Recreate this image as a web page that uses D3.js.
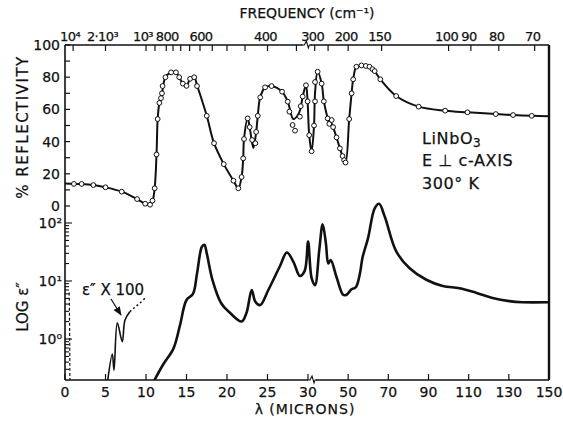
<!DOCTYPE html>
<html>
<head>
<meta charset="utf-8">
<script src="https://cdn.jsdelivr.net/npm/d3@7"></script>
<style>
  body { margin: 0; background: #fff; }
  text { font-family: "DejaVu Sans", sans-serif; fill: #111; stroke: #111; stroke-width: 0.25px; }
</style>
</head>
<body>
<div id="chart"></div>
<script>
// values, [wavelength in microns, value]
const reflPoints = [
  [1.1,13.7],[2.05,13.7],[3.5,13],[5.0,11.6],[7.0,8.9],[8.9,4.3],[9.9,1.4],[10.5,0.8],[10.8,3.3],
  [11.07,11],[11.3,32],[11.44,54],[11.65,64],[11.85,67],[11.97,70],[12.05,74.5],[12.4,80],[13.1,83],
  [13.7,83],[14.1,80],[14.55,76],[15.0,74.6],[15.45,79],[15.95,80],[16.3,74.5],[17.5,56],[18.4,39],
  [19.6,26],[20.8,15.7],[21.4,11],[21.8,18],[22.0,29.6],[22.1,41.6],[22.55,54.4],[22.8,49],[23.1,41],
  [23.5,39],[23.6,46],[23.8,56],[24.1,67.5],[24.7,73.7],[25.5,74.5],[26.8,71],[27.5,64.8],[27.7,58.6],
  [28.1,50.3],[28.4,46.8],[29.0,55.5],[29.1,62],[29.35,68],[29.75,75],[29.95,65],[30.6,44],[31.8,34],
  [33.0,50],[33.5,65],[33.5,77],[34.8,83.4],[36.8,76],[37.9,65],[39.8,54.4],[40.6,51],[41.8,53.4],
  [42.5,49],[44.2,42.6],[45.9,35.8],[47.2,31],[48.0,28.5],[48.7,27],[50.5,54],[51.7,70],[52.5,78.7],
  [54.1,86.5],[56.6,87.3],[58.8,87],[60.6,86.5],[62.1,85],[63.2,83.8],[66.0,78.7],[73.9,68.3],
  [85.1,61.7],[98.3,59.2],[109.4,58.2],[123.5,57.1],[132.1,56.5],[141.4,56]
];

const reflCurve = [
  [0,14],[1.1,13.7],[2.05,13.6],[3.5,13],[5,11.6],[7,8.9],[8.9,4.3],[9.9,1.4],[10.5,0.8],[10.8,3],
  [11.07,11],[11.3,32],[11.44,54],[11.65,64],[11.97,70],[12.4,80],[13.1,83],[13.7,83],[14.1,80],
  [14.55,76],[15.0,74.6],[15.45,79],[15.95,80],[16.3,75],[17.5,56],[18.4,39],[19.6,26],[20.8,15.7],
  [21.4,11],[21.8,18],[22.0,29.6],[22.1,41.6],[22.55,54.4],[22.8,49],[23.25,36],[23.6,46],[23.8,56],
  [24.1,67.5],[24.7,73.7],[25.5,74.5],[26.8,71],[27.5,64.8],[28.2,54],[28.9,58],[29.35,68],[29.75,75],
  [29.95,65],[30.6,44],[31.8,34],[33.0,50],[33.5,70],[34.8,83.4],[36.8,76],[37.9,65],[39.8,54.4],
  [40.6,51],[41.8,51],[42.5,49],[44.2,42.6],[45.9,35.8],[47.2,31],[48.7,27],[50.5,54],[51.7,70],
  [52.5,78.7],[54.1,86.5],[56.6,87.3],[58.8,87],[60.6,86.5],[62.1,85],[63.2,83.8],[66,78.7],
  [73.9,68.3],[85.1,61.7],[98.3,59.2],[109.4,58.2],[123.5,57.1],[132.1,56.5],[141.4,56],[150,55.7]
];

const epsCurve = [
  [11.0,0.19],[12.1,0.36],[13.4,0.69],[14.2,1.74],[15.0,4.7],[15.8,6.0],[16.3,13.5],[16.9,39],
  [17.2,42],[17.5,30],[18.2,10.5],[19.3,4.1],[20.4,2.8],[21.8,2.0],[22.4,2.8],[23.05,7.0],[23.5,4.4],
  [24.1,3.85],[25.1,7.0],[26.5,17.6],[27.4,31],[28.2,21.4],[29.0,12.2],[29.6,15.1],[30.05,48],
  [31.8,11.2],[33.5,8.5],[35.6,34],[37.3,95],[38.9,45],[40.1,20],[41.3,23],[44.2,11.7],[47.5,5.8],
  [49.2,5.8],[51.7,7.2],[53.8,7.8],[55.9,13.7],[57.1,25],[59.9,55],[63.2,178],[65.4,214],[68.2,129],
  [74.0,32],[80.6,16.6],[88.9,10.5],[97.1,8.2],[105.4,7.5],[113.6,6.3],[121.9,5.1],[130.2,4.5],
  [136.8,4.3],[150,4.3]
];

// eps'' x 100 near-IR part, solid then dotted
const eps100Curve = [[5.27,0.19],[5.84,0.55],[6.05,0.29],[6.46,1.9],[7.07,0.9],[7.4,2.1],[8.0,2.95]];
const eps100Dashed = [[8.0,2.95],[8.5,3.4],[9.2,4.1],[9.9,5.1]];
const farLeftDashed = [[0.6,0.19],[0.58,1],[0.52,6.5]];

const lambdaTicks = [0,5,10,15,20,25,30,50,70,90,110,130,150];
const freqTicks = [10000,2000,1000,900,800,750,700,650,600,550,500,450,400,350,300,250,200,150,100,90,80,70];
const freqLabels = [[10000,"10⁴"],[2000,"2·10³"],[1000,"10³"],[800,"800"],[600,"600"],[400,"400"],
  [300,"300"],[200,"200"],[150,"150"],[100,"100"],[90,"90"],[80,"80"],[70,"70"]];
const reflTicks = [0,10,20,30,40,50,60,70,80,90,100];
const reflLabels = [0,20,40,60,80,100];
const logLabels = [[1,"10⁰"],[10,"10¹"],[100,"10²"]];

// basic setup
const width = 563, height = 421;
const plotTop = 45, plotBottom = 380;

const svg = d3.select("#chart").append("svg")
    .attr("width", width)
    .attr("height", height);

// broken wavelength axis: 0-30 stretched, 30-150 compressed
const x = d3.scaleLinear().domain([0, 30, 150]).range([65, 308, 549]);
const yR = d3.scaleLinear().domain([0, 100]).range([206, plotTop]);
const yE = d3.scaleLog().domain([Math.pow(10, -41 / 58), 100]).range([plotBottom, 223]);

svg.append("clipPath").attr("id", "plotClip")
  .append("rect")
    .attr("x", x(0)).attr("y", plotTop)
    .attr("width", x(150) - x(0)).attr("height", plotBottom - plotTop);

// frame
const frame = svg.append("g").attr("stroke", "#111").attr("fill", "none");
frame.append("line").attr("x1", x(0)).attr("x2", x(0)).attr("y1", plotTop).attr("y2", plotBottom).attr("stroke-width", 1.6);
frame.append("line").attr("x1", x(150)).attr("x2", x(150)).attr("y1", plotTop).attr("y2", plotBottom).attr("stroke-width", 2.4);
frame.append("line").attr("x1", x(0)).attr("x2", x(150)).attr("y1", plotTop).attr("y2", plotTop).attr("stroke-width", 1.4);
frame.append("line").attr("x1", x(0)).attr("x2", x(150)).attr("y1", plotBottom).attr("y2", plotBottom).attr("stroke-width", 1.4);

// axis breaks (little zigzags)
function zigzag(cx, cy) {
  svg.append("rect").attr("x", cx - 4).attr("y", cy - 2).attr("width", 8).attr("height", 4).attr("fill", "#fff");
  svg.append("path")
    .attr("d", `M${cx - 5},${cy} L${cx - 2},${cy} L${cx},${cy - 4} L${cx + 2},${cy + 3} L${cx + 3},${cy} L${cx + 5},${cy}`)
    .attr("fill", "none").attr("stroke", "#111").attr("stroke-width", 1.1);
}
zigzag(x(29.8), plotTop);
zigzag(x(32), plotBottom);

// bottom axis (wavelength)
svg.selectAll(".lt").data(lambdaTicks).enter().append("line")
    .attr("x1", d => x(d)).attr("x2", d => x(d))
    .attr("y1", plotBottom).attr("y2", plotBottom - 6)
    .attr("stroke", "#111").attr("stroke-width", 1.2);
svg.selectAll(".ll").data(lambdaTicks).enter().append("text")
    .attr("x", d => x(d)).attr("y", 397)
    .attr("text-anchor", "middle").style("font-size", "14px")
    .text(d => d);
svg.append("text")
    .attr("x", 305).attr("y", 414)
    .attr("text-anchor", "middle").style("font-size", "14px").style("letter-spacing", "1px")
    .text("λ (MICRONS)");

// top axis (frequency) - labels squeezed like the hand lettering
svg.selectAll(".ft").data(freqTicks).enter().append("line")
    .attr("x1", d => x(1e4 / d)).attr("x2", d => x(1e4 / d))
    .attr("y1", plotTop).attr("y2", plotTop + 6)
    .attr("stroke", "#111").attr("stroke-width", 1.2);
svg.selectAll(".fl").data(freqLabels).enter().append("text")
    .attr("x", d => x(1e4 / d[0]) + (d[0] >= 1000 ? -3 : d[0] >= 600 ? 1 : -2))
    .attr("y", 41)
    .attr("text-anchor", "middle")
    .style("font-size", "13px")
    .style("letter-spacing", "-0.6px")
    .text(d => d[1]);
svg.append("text")
    .attr("x", 307).attr("y", 18)
    .attr("text-anchor", "middle").style("font-size", "14px")
    .text("FREQUENCY (cm⁻¹)");

// left axis, reflectivity part
svg.selectAll(".rt").data(reflTicks).enter().append("line")
    .attr("x1", x(0)).attr("x2", x(0) + 5)
    .attr("y1", d => yR(d)).attr("y2", d => yR(d))
    .attr("stroke", "#111").attr("stroke-width", 1.2);
svg.selectAll(".rl").data(reflLabels).enter().append("text")
    .attr("x", 60).attr("y", d => yR(d)).attr("dy", "0.36em")
    .attr("text-anchor", "end").style("font-size", "14px")
    .text(d => d);
svg.append("text")
    .attr("transform", "translate(28,127) rotate(-90)")
    .attr("text-anchor", "middle").style("font-size", "15px").style("letter-spacing", "1.5px")
    .text("% REFLECTIVITY");

// left axis, log eps'' part
const logTicks = yE.ticks().filter(d => yE(d) < plotBottom - 3);
svg.selectAll(".et").data(logTicks).enter().append("line")
    .attr("x1", x(0))
    .attr("x2", d => x(0) + ([1, 10, 100].includes(d) ? 7 : 4))
    .attr("y1", d => yE(d)).attr("y2", d => yE(d))
    .attr("stroke", "#111").attr("stroke-width", 1.1);
svg.selectAll(".el").data(logLabels).enter().append("text")
    .attr("x", 62).attr("y", d => yE(d[0])).attr("dy", "0.36em")
    .attr("text-anchor", "end").style("font-size", "14px")
    .text(d => d[1]);
svg.append("text")
    .attr("transform", "translate(28,307) rotate(-90)")
    .attr("text-anchor", "middle").style("font-size", "15px")
    .text("LOG ε″");

// reflectivity curve + measured points
const reflLine = d3.line()
    .x(d => x(d[0])).y(d => yR(d[1]))
    .curve(d3.curveCatmullRom.alpha(0.5));
svg.append("path")
    .attr("d", reflLine(reflCurve))
    .attr("fill", "none").attr("stroke", "#111").attr("stroke-width", 2);
svg.selectAll(".pt").data(reflPoints).enter().append("circle")
    .attr("cx", d => x(d[0])).attr("cy", d => yR(d[1]))
    .attr("r", 2.4)
    .attr("fill", "#fff").attr("stroke", "#111").attr("stroke-width", 1);

// eps'' curves
const epsLine = d3.line()
    .x(d => x(d[0])).y(d => yE(d[1]))
    .curve(d3.curveCatmullRom.alpha(0.5));
const lower = svg.append("g").attr("clip-path", "url(#plotClip)");
lower.append("path")
    .attr("d", epsLine(epsCurve))
    .attr("fill", "none").attr("stroke", "#111").attr("stroke-width", 2.6)
    .attr("stroke-linejoin", "round");
lower.append("path")
    .attr("d", epsLine(eps100Curve))
    .attr("fill", "none").attr("stroke", "#111").attr("stroke-width", 1.6);
lower.append("path")
    .attr("d", epsLine(eps100Dashed))
    .attr("fill", "none").attr("stroke", "#111").attr("stroke-width", 1.5)
    .attr("stroke-dasharray", "2,2.5");
lower.append("path")
    .attr("d", epsLine(farLeftDashed))
    .attr("fill", "none").attr("stroke", "#111").attr("stroke-width", 1.2)
    .attr("stroke-dasharray", "3,2");

// annotations
svg.append("text").attr("x", 82).attr("y", 295).style("font-size", "15px").text("ε″ X 100");
svg.append("defs").append("marker")
    .attr("id", "arrow").attr("viewBox", "0 0 10 10")
    .attr("refX", 9).attr("refY", 5)
    .attr("markerWidth", 7).attr("markerHeight", 7)
    .attr("orient", "auto")
  .append("path").attr("d", "M0,1 L10,5 L0,9 Z").attr("fill", "#111");
svg.append("line")
    .attr("x1", 111).attr("y1", 299).attr("x2", 121).attr("y2", 315)
    .attr("stroke", "#111").attr("stroke-width", 1.3)
    .attr("marker-end", "url(#arrow)");

const note = svg.append("g").style("font-size", "16px").style("letter-spacing", "0.6px");
note.append("text").attr("x", 422).attr("y", 144).html('LiNbO<tspan dy="3" style="font-size:12px">3</tspan>');
note.append("text").attr("x", 422).attr("y", 166).text("E ⊥ c-AXIS");
note.append("text").attr("x", 422).attr("y", 189).text("300° K");
</script>
</body>
</html>
